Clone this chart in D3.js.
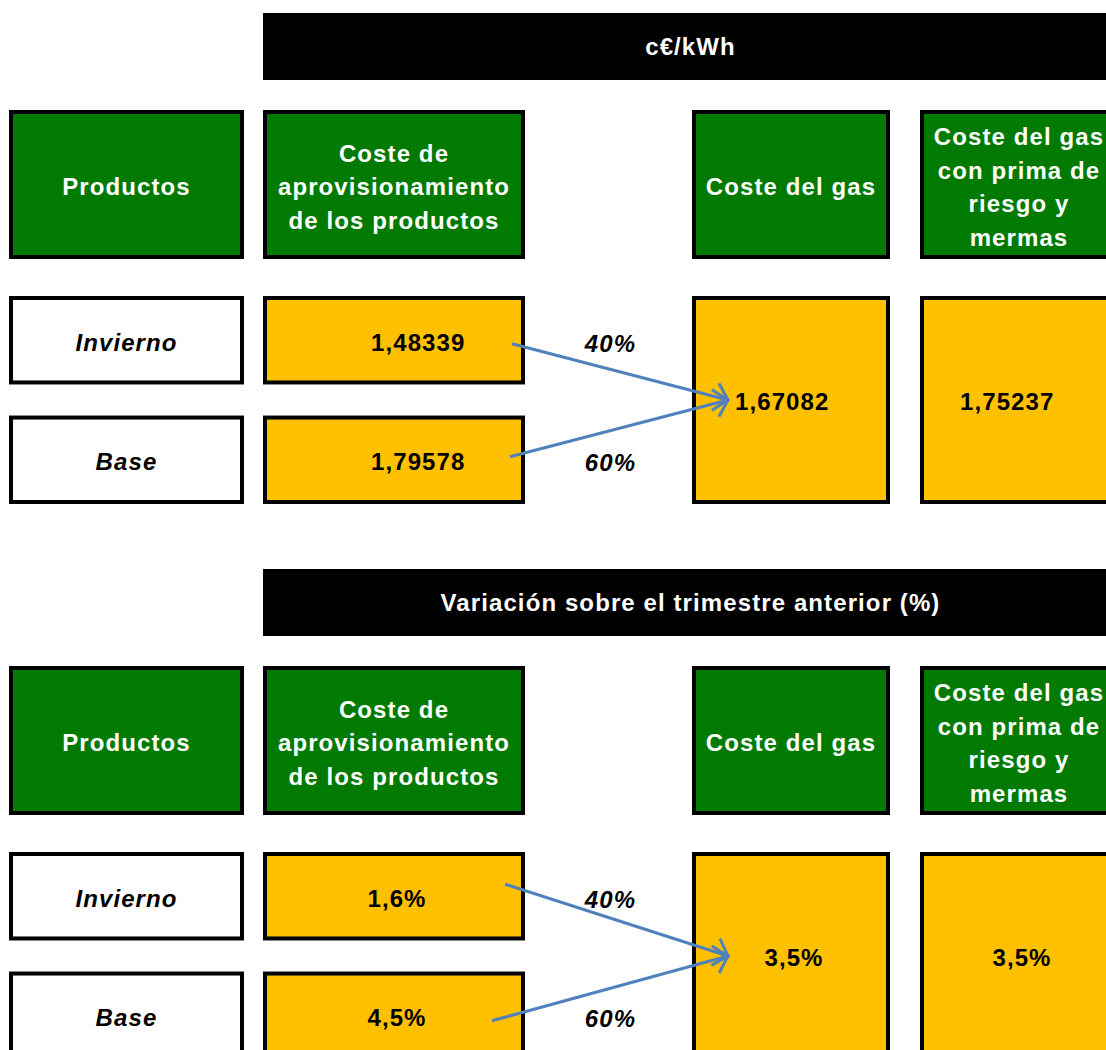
<!DOCTYPE html>
<html lang="es">
<head>
<meta charset="UTF-8">
<title>Coste del gas</title>
<script src="https://cdn.jsdelivr.net/npm/d3@7"></script>
<style>
	body { margin: 0; background: #fff; }
	svg { display: block; }
	text {
		font-family: "Liberation Sans", Arial, sans-serif;
		font-weight: bold;
		font-size: 24px;
		letter-spacing: 1.1px;
	}
	.cell { stroke: #000; stroke-width: 4px; }
	.head { fill: #007a00; }
	.val { fill: #ffc000; }
	.prod { fill: #fff; }
	.arrow { stroke: #4f81bd; stroke-width: 3px; fill: none; }
</style>
</head>
<body>
<script>
// data
var titulos = ["c€/kWh", "Variación sobre el trimestre anterior (%)"];
var cabeceras = [
	["Productos"],
	["Coste de", "aprovisionamiento", "de los productos"],
	["Coste del gas"],
	["Coste del gas", "con prima de", "riesgo y", "mermas"]
];
var productos = ["Invierno", "Base"];
var pesos = [0.4, 0.6];
var costeProductos = [[1.48339, 1.79578], [1.6, 4.5]];
var costeGas = [1.67082, 3.5];
var costeGasPrima = [1.75237, 3.5];

var width = 1106, height = 1050;

var es = d3.formatLocale({decimal: ",", thousands: ".", grouping: [3], currency: ["", "€"]});
var fmt = [es.format(".5f"), function (v) { return es.format(".1f")(v) + "%"; }];
var fmtPeso = es.format(".0%");

// column edges (outer)
var cols = [[9, 244], [263, 525], [692, 890], [920, 1118]];
// block 0 values sit at a left indent, block 1 values are centred
var textLeft = [null, 108, 43, 40];

var blockY = d3.scalePoint().domain(titulos).range([0, 556]);
var rowY = d3.scaleBand().domain(productos).range([296, 504]).paddingInner(0.26);

// small nudges of the hand drawn arrows, per block
var arrowNudge = [[[-13, 3.5], [-15, -3]], [[-20, -12], [-33, 5]]];

var svg = d3.select("body").append("svg")
	.attr("width", width)
	.attr("height", height);

svg.append("defs").append("marker")
	.attr("id", "head")
	.attr("viewBox", "-20 -20 24 40")
	.attr("markerUnits", "userSpaceOnUse")
	.attr("markerWidth", 24)
	.attr("markerHeight", 40)
	.attr("refX", 0)
	.attr("refY", 0)
	.attr("orient", "auto")
	.append("path")
	.attr("d", "M-13,-14L0,0L-13,14")
	.attr("fill", "none")
	.attr("stroke", "#4f81bd")
	.attr("stroke-width", 3);

function cellRect(g, x0, x1, y0, y1, cls) {
	g.append("rect")
		.attr("class", "cell " + cls)
		.attr("x", x0 + 2)
		.attr("y", y0 + 2)
		.attr("width", x1 - x0 - 4)
		.attr("height", y1 - y0 - 4);
}

function valueText(g, b, c, y, txt) {
	var t = g.append("text").attr("y", y).attr("dy", ".35em").text(txt);
	if (b === 0) {
		t.attr("x", cols[c][0] + textLeft[c]);
	} else {
		t.attr("x", (cols[c][0] + cols[c][1]) / 2 + 3).attr("text-anchor", "middle");
	}
}

titulos.forEach(function (titulo, b) {
	var g = svg.append("g").attr("transform", "translate(0," + blockY(titulo) + ")");

	// black banner
	g.append("rect")
		.attr("x", cols[1][0]).attr("y", 13)
		.attr("width", cols[3][1] - cols[1][0]).attr("height", 67)
		.attr("fill", "#000");
	g.append("text")
		.attr("x", (cols[1][0] + cols[3][1]) / 2).attr("y", 47)
		.attr("dy", ".35em").attr("text-anchor", "middle")
		.attr("fill", "#fff")
		.text(titulo);

	// green headers
	cabeceras.forEach(function (lines, c) {
		cellRect(g, cols[c][0], cols[c][1], 110, 259, "head");
		var cx = (cols[c][0] + cols[c][1]) / 2;
		var t = g.append("text").attr("text-anchor", "middle").attr("fill", "#fff");
		t.selectAll("tspan").data(lines).enter().append("tspan")
			.attr("x", cx)
			.attr("y", function (d, i) { return 187 + (i - (lines.length - 1) / 2) * 33.8; })
			.attr("dy", ".35em")
			.text(function (d) { return d; });
	});

	// product rows
	productos.forEach(function (p, i) {
		var y0 = rowY(p), y1 = y0 + rowY.bandwidth(), cy = (y0 + y1) / 2 + 2;
		cellRect(g, cols[0][0], cols[0][1], y0, y1, "prod");
		g.append("text")
			.attr("x", (cols[0][0] + cols[0][1]) / 2).attr("y", cy)
			.attr("dy", ".35em").attr("text-anchor", "middle")
			.attr("font-style", "italic")
			.text(p);
		cellRect(g, cols[1][0], cols[1][1], y0, y1, "val");
		valueText(g, b, 1, cy, fmt[b](costeProductos[b][i]));
		g.append("text")
			.attr("x", (cols[1][1] + cols[2][0]) / 2 + 2).attr("y", cy + 1)
			.attr("dy", ".35em").attr("text-anchor", "middle")
			.attr("font-style", "italic")
			.text(fmtPeso(pesos[i]));
	});

	// gas boxes
	var gy0 = rowY(productos[0]), gy1 = rowY(productos[1]) + rowY.bandwidth(), gcy = (gy0 + gy1) / 2;
	[costeGas, costeGasPrima].forEach(function (serie, k) {
		var c = k + 2;
		cellRect(g, cols[c][0], cols[c][1], gy0, gy1, "val");
		valueText(g, b, c, gcy + 2, fmt[b](serie[b]));
	});

	// arrows
	productos.forEach(function (p, i) {
		var n = arrowNudge[b][i];
		var cy = rowY(p) + rowY.bandwidth() / 2;
		g.append("line")
			.attr("class", "arrow")
			.attr("x1", cols[1][1] + n[0]).attr("y1", cy + n[1])
			.attr("x2", cols[2][0] + 36).attr("y2", gcy)
			.attr("marker-end", "url(#head)");
	});
});
</script>
</body>
</html>
